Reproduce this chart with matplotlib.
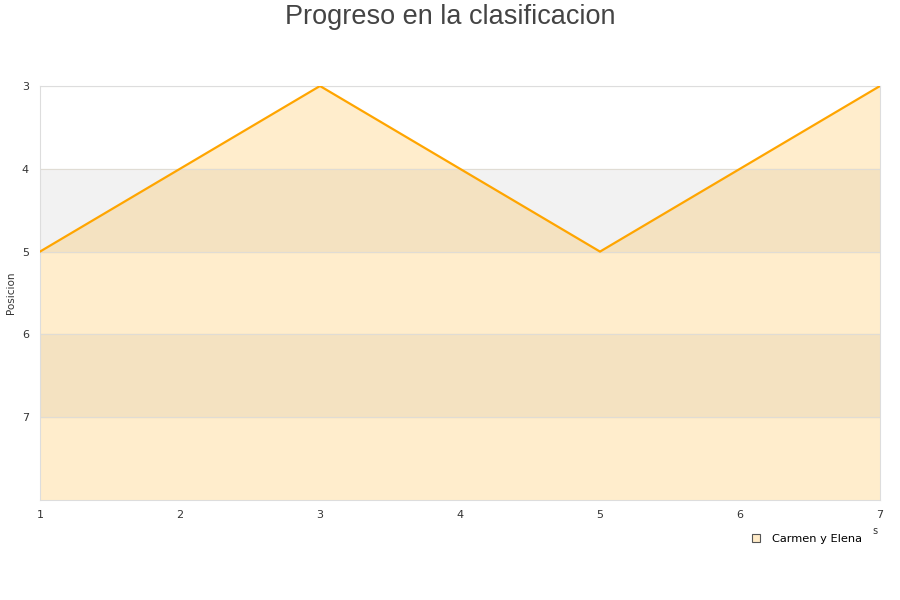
import matplotlib
matplotlib.use('Agg')
import matplotlib.pyplot as plt
from matplotlib.lines import Line2D

# datos
jornadas = [1, 2, 3, 4, 5, 6, 7]
posicion = [5, 4, 3, 4, 5, 4, 3]
serie = 'Carmen y Elena'
y_ticks = [3, 4, 5, 6, 7]

fig = plt.figure(figsize=(9, 6), dpi=100)
ax = fig.add_axes([40 / 900, 100 / 600, 840 / 900, 414 / 600])

# bandas alternas
for y0 in range(3, 8):
    if y0 % 2 == 0:
        ax.axhspan(y0, y0 + 1, color='#f2f2f2', zorder=0)

ax.fill_between(jornadas, posicion, 8, color='#ffa500', alpha=0.2, lw=0, zorder=1)
ax.plot(jornadas, posicion, color='#ffa500', lw=1.6, zorder=3)

ax.set_xlim(1, 7)
ax.set_ylim(8, 3)
ax.set_yticks(y_ticks)
ax.set_xticks(jornadas)
ax.tick_params(axis='x', length=0, labelsize=8, colors='#333333', pad=7)
ax.tick_params(axis='y', length=0, labelsize=8, colors='#333333', pad=8)
ax.grid(axis='y', color='#e0dcd4', lw=0.8, zorder=2)
for s in ax.spines.values():
    s.set_color('#dddddd')

fig.text(11 / 900, 1 - 293 / 600, 'Posicion', rotation=90, ha='center', va='center',
         fontsize=7.5, color='#333333')
fig.text(0.5, 1 - 17 / 600, 'Progreso en la clasificacion', ha='center', va='center',
         fontsize=19.5, color='#444444', family='Liberation Sans')
fig.text(875 / 900, 1 - 531 / 600, 's', fontsize=7, color='#333333', ha='center', va='center')

h = Line2D([], [], marker='s', ls='', markersize=6, markerfacecolor='#ffebc8',
           markeredgecolor='#555555', markeredgewidth=0.8)
fig.legend([h], [serie], loc='center right', bbox_to_anchor=(872 / 900, 1 - 539 / 600),
           frameon=False, fontsize=8.2, handletextpad=0.4)

fig.savefig('out.png')
